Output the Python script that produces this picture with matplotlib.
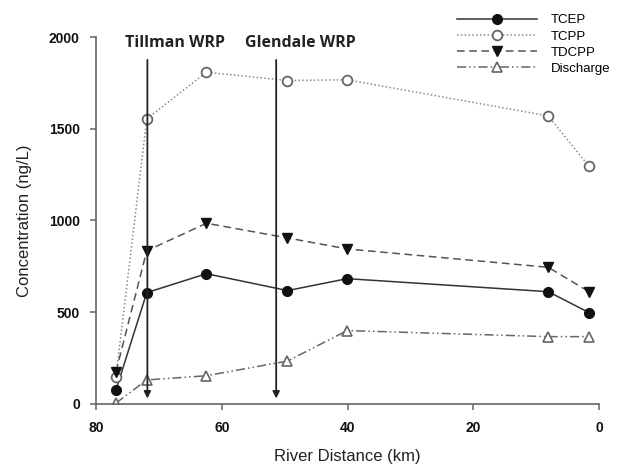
import matplotlib
matplotlib.use("Agg")
import matplotlib.pyplot as plt

# river distance of sampling sites (km)
distance = [76.9, 72.0, 62.5, 49.6, 40.1, 8.1, 1.6]
tcep = [76, 607, 710, 618, 683, 612, 498]
tcpp = [149, 1554, 1808, 1763, 1767, 1570, 1295]
tdcpp = [176, 835, 985, 905, 845, 745, 612]
discharge = [5, 131, 154, 234, 400, 367, 367]

plants = ["Tillman WRP", "Glendale WRP"]
plant_km = [71.9, 51.4]
plant_label_km = [67.5, 47.6]

plt.rcParams["font.family"] = ["Liberation Sans", "DejaVu Sans"]

fig = plt.figure(figsize=(6.17, 4.71), dpi=100)
ax = fig.add_axes([0.1564, 0.1423, 0.8146, 0.7791])

ax.plot(distance, tcep, color="#333333", lw=1.1, ls="-", marker="o",
        ms=7, mfc="#111111", mec="#111111", label="TCEP")
ax.plot(distance, tcpp, color="#8a8a8a", lw=1.1, ls=(0, (1, 1.5)), marker="o",
        ms=7, mfc="white", mec="#666666", mew=1.3, label="TCPP")
ax.plot(distance, tdcpp, color="#555555", lw=1.1, ls=(0, (5, 3)), marker="v",
        ms=7, mfc="#111111", mec="#111111", label="TDCPP")
ax.plot(distance, discharge, color="#666666", lw=1.1, ls=(0, (6, 2, 1, 2, 1, 2)),
        marker="^", ms=7, mfc="white", mec="#666666", mew=1.2, label="Discharge")

for name, km, lkm in zip(plants, plant_km, plant_label_km):
    ax.annotate("", xy=(km, 30), xytext=(km, 1875),
                arrowprops=dict(arrowstyle="-|>", color="#222222", lw=1.3,
                                mutation_scale=10, shrinkA=0, shrinkB=0))
    ax.text(lkm, 1970, name, ha="center", va="center", fontsize=11.5,
            fontweight="bold", family=["Open Sans", "DejaVu Sans"], color="#222222")

ax.set_xlim(80, 0)
ax.set_ylim(0, 2000)
ax.set_xticks([80, 60, 40, 20, 0])
ax.set_yticks([0, 500, 1000, 1500, 2000])
for s in ["top", "right"]:
    ax.spines[s].set_visible(False)
for s in ["left", "bottom"]:
    ax.spines[s].set_color("#666666")
    ax.spines[s].set_linewidth(1.2)
ax.tick_params(direction="out", length=4, width=1.1, color="#666666",
               labelsize=10, pad=8)
for lab in ax.get_xticklabels() + ax.get_yticklabels():
    lab.set_fontweight("bold")
    lab.set_color("#111111")
ax.tick_params(axis="x", pad=8)

ax.set_xlabel("River Distance (km)", fontsize=12, labelpad=10, color="#222222")
ax.set_ylabel("Concentration (ng/L)", fontsize=12, labelpad=12, color="#222222")

fig.legend(loc="upper left", bbox_to_anchor=(0.722, 0.995), frameon=False,
           fontsize=9.5, handlelength=6.0, labelspacing=0.3, handletextpad=1.1)

fig.savefig("out.png", dpi=100)
